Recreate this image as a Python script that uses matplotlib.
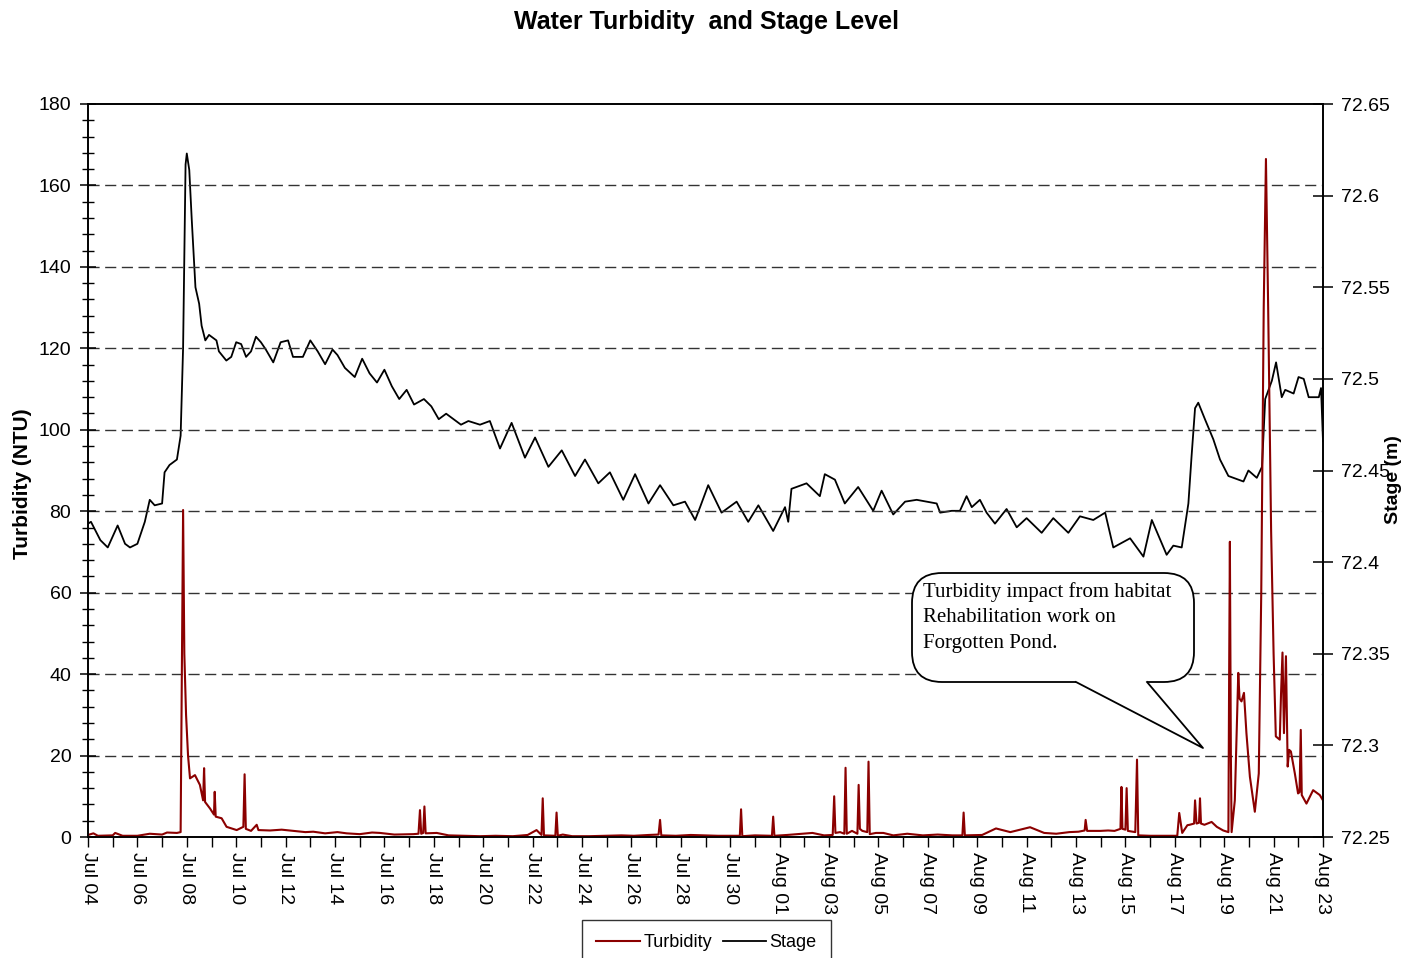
from __future__ import annotations

import matplotlib

matplotlib.use("Agg")
import matplotlib.dates as mdates
import matplotlib.pyplot as plt
import pandas as pd
from matplotlib.lines import Line2D
from matplotlib.patches import FancyBboxPatch, Polygon
from matplotlib.ticker import FuncFormatter, MultipleLocator

START = pd.Timestamp("2011-07-04")
N_DAYS = 50

# stage (m), time in days after Jul 04 00:00
STAGE_DAY = [
    0.0, 0.12, 0.5, 0.8, 1.2, 1.5, 1.7, 2.0, 2.3, 2.5, 2.7, 3.0, 3.1, 3.3, 3.6,
    3.75, 3.85, 3.95, 4.0, 4.1, 4.2, 4.35, 4.5, 4.6, 4.75, 4.9, 5.2, 5.3, 5.6,
    5.8, 6.0, 6.2, 6.4, 6.6, 6.8, 7.0, 7.2, 7.5, 7.8, 8.1, 8.3, 8.7, 9.0, 9.3,
    9.6, 9.9, 10.1, 10.4, 10.8, 11.1, 11.4, 11.7, 12.0, 12.3, 12.6, 12.9, 13.2,
    13.6, 13.9, 14.2, 14.5, 14.8, 15.1, 15.4, 15.87, 16.27, 16.68, 17.15, 17.69,
    18.1, 18.64, 19.18, 19.72, 20.12, 20.66, 21.13, 21.67, 22.15, 22.69, 23.16,
    23.7, 24.17, 24.58, 24.78, 25.11, 25.65, 26.26, 26.73, 27.14, 27.74, 28.22,
    28.35, 28.48, 29.09, 29.63, 29.83, 30.24, 30.64, 31.18, 31.79, 32.13, 32.6,
    33.08, 33.55, 34.36, 34.5, 34.97, 35.3, 35.57, 35.78, 36.11, 36.38, 36.72,
    37.19, 37.6, 38.0, 38.61, 39.08, 39.69, 40.16, 40.7, 41.18, 41.51, 42.19,
    42.73, 43.07, 43.67, 43.94, 44.28, 44.55, 44.68, 44.82, 44.95, 45.22, 45.56,
    45.83, 46.17, 46.78, 46.98, 47.32, 47.53, 47.66, 47.93, 48.1, 48.33, 48.47,
    48.81, 49.01, 49.22, 49.42, 49.83, 49.92, 50.0,
]
STAGE_M = [
    72.421, 72.422, 72.412, 72.408, 72.420, 72.410, 72.408, 72.410, 72.422,
    72.434, 72.431, 72.432, 72.449, 72.453, 72.456, 72.469, 72.517, 72.617,
    72.623, 72.614, 72.587, 72.550, 72.541, 72.529, 72.521, 72.524, 72.521,
    72.515, 72.510, 72.512, 72.520, 72.519, 72.512, 72.515, 72.523, 72.520,
    72.516, 72.509, 72.520, 72.521, 72.512, 72.512, 72.521, 72.515, 72.508,
    72.516, 72.513, 72.506, 72.501, 72.511, 72.503, 72.498, 72.505, 72.496,
    72.489, 72.494, 72.486, 72.489, 72.485, 72.478, 72.481, 72.478, 72.475,
    72.477, 72.475, 72.477, 72.462, 72.476, 72.457, 72.468, 72.452, 72.461,
    72.447, 72.456, 72.443, 72.449, 72.434, 72.448, 72.432, 72.442, 72.431,
    72.433, 72.423, 72.430, 72.442, 72.427, 72.433, 72.422, 72.431, 72.417,
    72.430, 72.422, 72.440, 72.443, 72.436, 72.448, 72.445, 72.432, 72.441,
    72.428, 72.439, 72.426, 72.433, 72.434, 72.432, 72.427, 72.428, 72.428,
    72.436, 72.430, 72.434, 72.427, 72.421, 72.429, 72.419, 72.424, 72.416,
    72.424, 72.416, 72.425, 72.423, 72.427, 72.408, 72.413, 72.403, 72.423,
    72.404, 72.409, 72.408, 72.432, 72.458, 72.484, 72.487, 72.478, 72.467,
    72.456, 72.447, 72.444, 72.450, 72.446, 72.452, 72.489, 72.499, 72.509,
    72.490, 72.494, 72.492, 72.501, 72.500, 72.490, 72.490, 72.495, 72.466,
]

# turbidity (NTU)
TURB_DAY = [
    0.0, 0.22, 0.4, 1.0, 1.1, 1.4, 2.0, 2.5, 3.0, 3.2, 3.6, 3.75, 3.8, 3.85,
    3.9, 3.97, 4.05, 4.13, 4.33, 4.53, 4.66, 4.7, 4.74, 4.94, 5.1, 5.13, 5.17,
    5.41, 5.61, 6.02, 6.29, 6.34, 6.39, 6.6, 6.83, 6.9, 7.37, 7.84, 8.31, 8.8,
    9.12, 9.6, 10.1, 10.47, 11.0, 11.5, 11.82, 12.4, 13.17, 13.38, 13.44, 13.49,
    13.57, 13.62, 13.67, 14.12, 14.6, 15.2, 15.87, 16.5, 17.2, 17.8, 18.16,
    18.36, 18.41, 18.46, 18.92, 18.97, 19.02, 19.22, 19.6, 20.3, 21.0, 21.6,
    22.1, 22.7, 23.1, 23.16, 23.21, 23.8, 24.4, 24.9, 25.5, 26.1, 26.39, 26.44,
    26.49, 27.0, 27.69, 27.74, 27.79, 28.3, 29.33, 29.8, 30.15, 30.21, 30.26,
    30.45, 30.62, 30.67, 30.72, 30.93, 31.15, 31.2, 31.25, 31.35, 31.55, 31.6,
    31.65, 31.9, 32.2, 32.6, 33.17, 33.8, 34.4, 35.0, 35.4, 35.45, 35.5, 36.2,
    36.76, 37.34, 38.14, 38.71, 39.2, 39.73, 40.1, 40.35, 40.39, 40.45, 40.99,
    41.3, 41.56, 41.8, 41.84, 41.88, 42.0, 42.05, 42.1, 42.4, 42.47, 42.52,
    43.0, 43.5, 44.1, 44.18, 44.3, 44.51, 44.6, 44.78, 44.82, 44.88, 44.98,
    45.02, 45.06, 45.2, 45.49, 45.7, 45.96, 46.17, 46.2, 46.23, 46.27, 46.3,
    46.43, 46.57, 46.62, 46.7, 46.8, 46.9, 47.04, 47.24, 47.4, 47.5, 47.6,
    47.69, 47.78, 47.9, 48.0, 48.09, 48.25, 48.3, 48.36, 48.42, 48.5, 48.57,
    48.63, 48.7, 48.86, 48.99, 49.05, 49.1, 49.14, 49.33, 49.6, 49.87, 50.0,
]
TURB_NTU = [
    0.5, 0.9, 0.3, 0.4, 1.0, 0.3, 0.3, 0.8, 0.6, 1.1, 1.0, 1.2, 40.0, 80.3,
    45.0, 30.0, 20.0, 14.4, 15.2, 12.8, 9.0, 16.9, 8.6, 7.0, 5.5, 11.1, 5.0,
    4.6, 2.5, 1.7, 2.5, 15.4, 2.0, 1.5, 3.0, 1.7, 1.6, 1.8, 1.5, 1.2,
    1.3, 0.9, 1.2, 0.9, 0.7, 1.1, 1.0, 0.6, 0.7, 0.8, 6.6, 0.8,
    1.0, 7.5, 0.9, 1.0, 0.4, 0.3, 0.2, 0.3, 0.2, 0.5, 1.7,
    0.5, 9.5, 0.4, 0.3, 6.0, 0.3, 0.6, 0.2, 0.2, 0.3, 0.4,
    0.3, 0.5, 0.6, 4.2, 0.4, 0.3, 0.5, 0.4, 0.3, 0.3, 0.3, 6.8,
    0.2, 0.4, 0.3, 5.0, 0.3, 0.5, 1.0, 0.4, 0.5, 10.0, 1.0,
    1.2, 0.8, 17.0, 0.8, 1.5, 0.8, 12.8, 2.0, 1.5, 1.2, 18.5,
    0.7, 1.0, 1.0, 0.4, 0.8, 0.4, 0.6, 0.4, 0.4, 6.0, 0.4, 0.5,
    2.1, 1.2, 2.4, 1.0, 0.8, 1.2, 1.3, 1.6, 4.2, 1.5, 1.5,
    1.6, 1.5, 2.0, 12.3, 2.0, 1.8, 12.0, 1.5, 1.2, 19.0, 0.4,
    0.3, 0.3, 0.3, 5.9, 1.0, 2.9, 3.0, 3.3, 9.0, 3.3, 3.5,
    9.5, 3.3, 3.0, 3.7, 2.5, 1.6, 1.2, 40.0, 72.5, 20.0, 1.2,
    9.0, 40.3, 34.0, 33.3, 35.4, 25.5, 14.8, 6.2, 15.6, 60.0, 130.0,
    166.5, 130.0, 75.0, 45.0, 24.7, 23.9, 35.0, 45.3, 25.5, 44.4, 17.3,
    21.4, 21.0, 15.6, 10.7, 11.0, 26.3, 10.3, 8.2, 11.5, 10.3, 9.0,
]

CALLOUT_TEXT = "Turbidity impact from habitat\nRehabilitation work on\nForgotten Pond."

TURB_COLOR = "#8b0000"
STAGE_COLOR = "#000000"


def px(x, y):
    # reference pixel -> inches from lower-left (figure is 1413 x 958 px at 100 dpi)
    return x / 100.0, (958 - y) / 100.0


def main() -> None:
    plt.rcParams["font.family"] = ["Liberation Sans", "DejaVu Sans"]

    stage_t = START + pd.to_timedelta(STAGE_DAY, unit="D")
    turb_t = START + pd.to_timedelta(TURB_DAY, unit="D")

    fig = plt.figure(figsize=(14.13, 9.58), dpi=100)
    ax = fig.add_axes([88 / 1413, 1 - 837 / 958, (1323 - 88) / 1413, (837 - 104) / 958])
    ax2 = ax.twinx()

    ax2.plot(stage_t, STAGE_M, color=STAGE_COLOR, lw=1.3, label="Stage")
    ax.plot(turb_t, TURB_NTU, color=TURB_COLOR, lw=1.5, label="Turbidity")
    ax.set_zorder(ax2.get_zorder() + 1)
    ax.patch.set_visible(False)

    # left axis
    ax.set_ylim(0, 180)
    ax.yaxis.set_major_locator(MultipleLocator(20))
    ax.yaxis.set_minor_locator(MultipleLocator(4))
    ax.tick_params(axis="y", which="major", direction="inout", length=12, width=1.1, labelsize=14, pad=6)
    ax.tick_params(axis="y", which="minor", direction="inout", length=9, width=1.0)
    for v in range(20, 180, 20):
        ax.axhline(v, color="#333333", lw=1.0, dashes=(8, 4), zorder=0)
    ax.set_ylabel("Turbidity (NTU)", fontsize=15, fontweight="bold")
    ax.yaxis.set_label_coords(-0.045, 0.482)

    # right axis
    ax2.set_ylim(72.25, 72.65)
    ax2.yaxis.set_major_locator(MultipleLocator(0.05))
    ax2.yaxis.set_major_formatter(FuncFormatter(lambda v, _: f"{round(v, 2):g}"))
    ax2.tick_params(axis="y", direction="inout", length=14, width=1.1, labelsize=14, pad=6)
    ax2.set_ylabel("Stage (m)", fontsize=14, fontweight="bold")
    ax2.yaxis.set_label_coords(1.050, 0.487)

    # x axis
    ax.set_xlim(START, START + pd.Timedelta(days=N_DAYS))
    ax.set_xticks(pd.date_range(START, periods=N_DAYS // 2 + 1, freq="2D"))
    ax.set_xticks(pd.date_range(START, periods=N_DAYS + 1, freq="D"), minor=True)
    ax.xaxis.set_major_formatter(mdates.DateFormatter("%b %d"))
    ax.tick_params(axis="x", which="both", direction="out", length=7, width=1.0, labelsize=14, pad=4)
    for lab in ax.get_xticklabels():
        lab.set_rotation(-90)
        lab.set_ha("center")
        lab.set_va("top")

    for a in (ax, ax2):
        for s in a.spines.values():
            s.set_linewidth(1.2)
            s.set_color("black")

    fig.text(706 / 1413, 1 - 22 / 958, "Water Turbidity  and Stage Level", ha="center", va="center",
             fontsize=18, fontweight="bold")

    # callout bubble
    x0, y0 = px(912, 682)
    x1, y1 = px(1194, 573)
    box = FancyBboxPatch((x0, y0), x1 - x0, y1 - y0, boxstyle="round,pad=0,rounding_size=0.3",
                         transform=fig.dpi_scale_trans, facecolor="white", edgecolor="black", lw=1.3, zorder=10)
    fig.add_artist(box)
    cover = Polygon([px(1076, 678), px(1076, 682), px(1203, 748), px(1147, 682), px(1147, 678)],
                    closed=True, transform=fig.dpi_scale_trans, facecolor="white", edgecolor="none", zorder=11)
    fig.add_artist(cover)
    fig.add_artist(Line2D(*zip(px(1076, 682), px(1203, 748), px(1147, 682)),
                          transform=fig.dpi_scale_trans, color="black", lw=1.3, zorder=12))
    tx, ty = px(923, 582)
    fig.text(tx, ty, CALLOUT_TEXT, transform=fig.dpi_scale_trans, ha="left", va="top",
             fontsize=15, family=["Liberation Serif", "DejaVu Serif"], linespacing=1.45, zorder=13)

    handles = [Line2D([], [], color=TURB_COLOR, lw=1.5), Line2D([], [], color=STAGE_COLOR, lw=1.3)]
    leg = fig.legend(handles, ["Turbidity", "Stage"], loc="upper center", bbox_to_anchor=(0.5, 1 - 920 / 958),
                     ncol=2, fontsize=13, frameon=True, fancybox=False, edgecolor="black", borderaxespad=0,
                     handlelength=2.4, columnspacing=0.6, handletextpad=0.2, borderpad=0.8)
    leg.get_frame().set_linewidth(1.0)

    fig.savefig("out.png", dpi=100)
    plt.close(fig)


if __name__ == "__main__":
    main()
